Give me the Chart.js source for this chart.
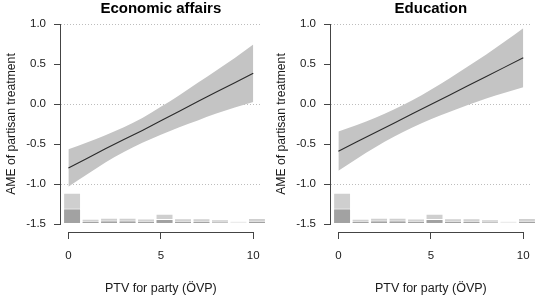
<!DOCTYPE html>
<html>
<head>
<meta charset="utf-8">
<script src="https://cdn.jsdelivr.net/npm/chart.js@4.4.1/dist/chart.umd.min.js"></script>
<style>
  body { margin: 0; background: #fff; }
  .wrap { display: flex; width: 540px; height: 296px; }
  canvas { display: block; }
</style>
</head>
<body>
<div class="wrap">
  <canvas id="econChart" width="270" height="296"></canvas>
  <canvas id="eduChart" width="270" height="296"></canvas>
</div>
<script>
// PTV values where the marginal effect is read
const ptv = [0, 1, 2, 3, 4, 5, 6, 7, 8, 9, 10];

// Economic affairs: AME and 95% band
const econMid   = [-0.80, -0.68, -0.56, -0.445, -0.33, -0.21, -0.09, 0.03, 0.15, 0.265, 0.385];
const econUpper = [-0.567, -0.48, -0.39, -0.29, -0.175, -0.035, 0.11, 0.265, 0.42, 0.575, 0.745];
const econLower = [-1.033, -0.88, -0.73, -0.60, -0.485, -0.385, -0.29, -0.205, -0.12, -0.045, 0.025];

// Education: AME and 95% band
const eduMid   = [-0.59, -0.473, -0.356, -0.24, -0.123, -0.006, 0.11, 0.228, 0.344, 0.461, 0.578];
const eduUpper = [-0.345, -0.263, -0.171, -0.07, 0.047, 0.179, 0.32, 0.468, 0.619, 0.781, 0.948];
const eduLower = [-0.835, -0.683, -0.541, -0.41, -0.293, -0.191, -0.1, -0.012, 0.069, 0.141, 0.208];

// histogram of PTV at the bottom (heights in y units above the base)
const histMids = [0.2, 1.2, 2.2, 3.2, 4.2, 5.2, 6.2, 7.2, 8.2, 9.2, 10.2];
const histAll  = [0.39, 0.066, 0.079, 0.078, 0.07, 0.129, 0.072, 0.073, 0.06, 0.04, 0.075];
const histSub  = [0.195, 0.041, 0.045, 0.045, 0.04, 0.062, 0.042, 0.042, 0.032, 0, 0.042];
const histBase = -1.5;

const yTicks = [-1.5, -1, -0.5, 0, 0.5, 1];
const xTicks = [0, 5, 10];
const gridValues = [-1, 0, 1];

Chart.defaults.font.family = '"Liberation Sans", Arial, Helvetica, sans-serif';
Chart.defaults.color = '#1a1a1a';

// R-style axis lines, only spanning the tick range
const axisLines = {
  id: 'axisLines',
  afterDraw(chart) {
    const {ctx, chartArea, scales: {x, y}} = chart;
    const lx = Math.round(chartArea.left) - 0.5;
    const by = Math.round(chartArea.bottom) + 0.5;
    ctx.save();
    ctx.strokeStyle = '#444';
    ctx.lineWidth = 1;
    ctx.beginPath();
    ctx.moveTo(lx, y.getPixelForValue(yTicks[yTicks.length - 1]));
    ctx.lineTo(lx, y.getPixelForValue(yTicks[0]));
    ctx.moveTo(x.getPixelForValue(xTicks[0]), by);
    ctx.lineTo(x.getPixelForValue(xTicks[xTicks.length - 1]), by);
    ctx.stroke();
    ctx.restore();
  }
};

function pts(vals) {
  return ptv.map((v, i) => ({x: v, y: vals[i]}));
}

function bars(heights) {
  return histMids.map((v, i) => ({x: v, y: [histBase, histBase + heights[i]]}));
}

function makePanel(id, title, mid, upper, lower) {
  return new Chart(document.getElementById(id), {
    type: 'line',
    data: {
      datasets: [
        {data: pts(mid), borderColor: '#2a2a2a', borderWidth: 1.1, pointRadius: 0},
        {data: pts(upper), borderColor: 'rgba(0,0,0,0)', pointRadius: 0,
         fill: '+1', backgroundColor: '#c4c4c4', cubicInterpolationMode: 'monotone'},
        {data: pts(lower), borderColor: 'rgba(0,0,0,0)', pointRadius: 0,
         fill: false, cubicInterpolationMode: 'monotone'},
        {type: 'bar', data: bars(histSub), backgroundColor: '#a2a2a2',
         borderColor: '#fff', borderWidth: 1, borderSkipped: false,
         grouped: false, categoryPercentage: 1, barPercentage: 0.97, clip: false},
        {type: 'bar', data: bars(histAll),
         backgroundColor: ['#cfcfcf', '#cfcfcf', '#cfcfcf', '#cfcfcf', '#cfcfcf', '#cfcfcf',
                           '#cfcfcf', '#cfcfcf', '#cfcfcf', '#ececec', '#cfcfcf'],
         borderColor: '#fff', borderWidth: 1, borderSkipped: false,
         grouped: false, categoryPercentage: 1, barPercentage: 0.97, clip: false}
      ]
    },
    options: {
      responsive: false,
      animation: false,
      layout: {padding: {left: 0, right: 9, top: 0, bottom: 0}},
      plugins: {
        legend: {display: false},
        tooltip: {enabled: false},
        title: {
          display: true, text: title, color: '#000', fullSize: false,
          font: {size: 15, weight: 'bold', lineHeight: 1},
          padding: {top: 1, bottom: 0}
        }
      },
      scales: {
        x: {
          type: 'linear', min: -0.4, max: 10.4, offset: false,
          afterBuildTicks: s => { s.ticks = xTicks.map(v => ({value: v})); },
          afterFit: s => { s.height = 64; },
          grid: {offset: false, drawOnChartArea: false, tickLength: 7,
                 color: '#444', tickColor: '#444'},
          border: {display: false},
          ticks: {padding: 10, font: {size: 11.5}, maxRotation: 0, autoSkip: false,
                  callback: v => String(v)},
          title: {display: true, text: 'PTV for party (ÖVP)', font: {size: 12.5},
                  padding: {top: 0, bottom: 0}}
        },
        y: {
          type: 'linear', min: -1.6, max: 1.1,
          afterBuildTicks: s => { s.ticks = yTicks.map(v => ({value: v})); },
          afterFit: s => { s.width = 61; },
          grid: {
            color: c => (c.tick && gridValues.includes(c.tick.value)) ? '#bdbdbd' : 'rgba(0,0,0,0)',
            tickColor: '#444', tickLength: 7
          },
          border: {display: false, dash: [1, 2]},
          ticks: {padding: 8, font: {size: 11.5}, callback: v => v.toFixed(1)},
          title: {display: true, text: 'AME of partisan treatment', font: {size: 12.2},
                  padding: {top: 4, bottom: 0}}
        }
      }
    },
    plugins: [axisLines]
  });
}

makePanel('econChart', 'Economic affairs', econMid, econUpper, econLower);
makePanel('eduChart', 'Education', eduMid, eduUpper, eduLower);
</script>
</body>
</html>
